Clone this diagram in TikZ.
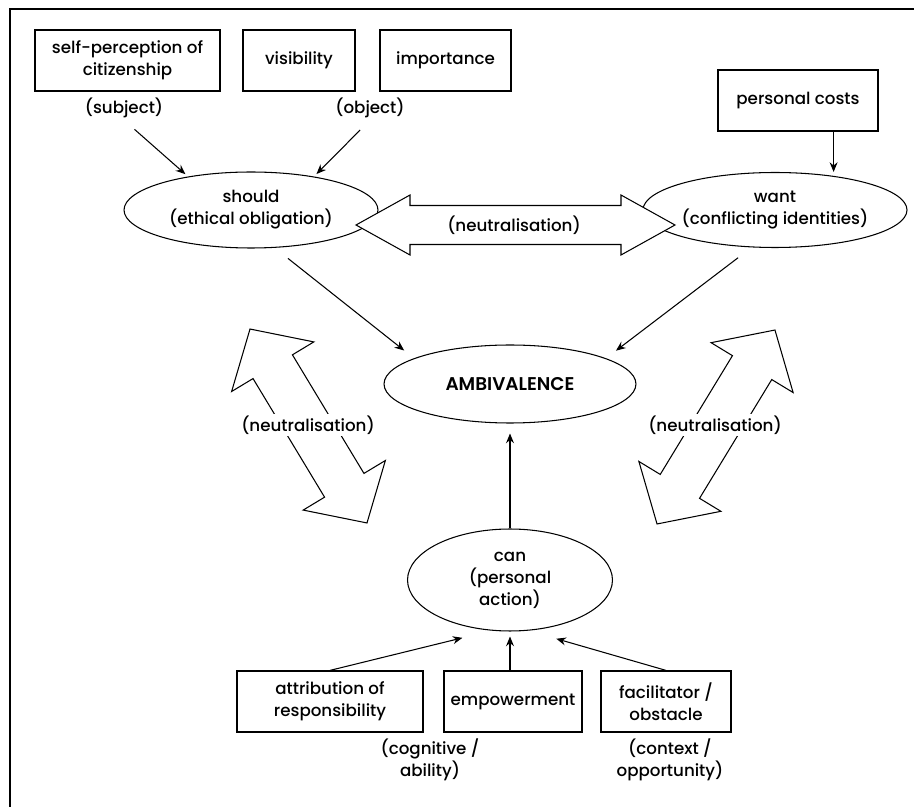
\documentclass[tikz,border=0pt]{standalone}
\usepackage{fontspec}
\setmainfont{Poppins}[UprightFont={* Medium}, BoldFont={* SemiBold}]
\usetikzlibrary{arrows.meta,shapes.geometric}

\tikzset{
  box/.style={draw, line width=0.7pt, align=center, inner sep=2pt},
  oval/.style={draw, ellipse, line width=0.6pt, align=center, inner sep=0pt},
  note/.style={align=center, fill=white, inner sep=1pt},
  arr/.style={-{Stealth[length=5.5pt,width=4.5pt]}, line width=0.6pt},
  block/.style={draw, fill=white, line width=0.6pt, line join=miter},
}

% center, angle, half length, head length, head half width, shaft half width
\newcommand{\blockarrow}[6]{%
  \begin{scope}[shift={#1}, rotate=#2]
    \draw[block] (-#3,0) -- (-#3+#4,#5) -- (-#3+#4,#6) -- (#3-#4,#6) -- (#3-#4,#5)
      -- (#3,0) -- (#3-#4,-#5) -- (#3-#4,-#6) -- (-#3+#4,-#6) -- (-#3+#4,-#5) -- cycle;
  \end{scope}}

\begin{document}
\begin{tikzpicture}[x=0.02cm, y=-0.02cm, font=\fontsize{9.5}{12.5}\selectfont]
            \useasboundingbox (0,0) rectangle (914,807);
            % cadre
            \draw[line width=0.8pt] (914,9) -- (10,9) -- (10,807);

            % boites du haut
            \node[box, minimum width=3.7cm, minimum height=1.22cm] (selfp) at (127.5,60.5) {self-perception of\\citizenship};
            \node[box, minimum width=2.24cm, minimum height=1.22cm] (visib) at (299,60.5) {visibility};
            \node[box, minimum width=2.62cm, minimum height=1.22cm] (import) at (445.5,60.5) {importance};
            \node[box, minimum width=3.2cm, minimum height=1.22cm] (pcost) at (798,100.5) {personal costs};
            \node[note] (subj) at (124,108) {(subject)};
            \node[note] (obj) at (370,108) {(object)};

            % ellipses
            \node[oval, minimum width=5.08cm, minimum height=1.52cm] (should) at (251,210) {should\\(ethical obligation)};
            \node[oval, minimum width=5.08cm, minimum height=1.5cm] (want) at (775,210) {want\\(conflicting identities)};
            \node[oval, minimum width=5.04cm, minimum height=1.56cm] (ambiv) at (510,384) {\fontsize{10.5}{12.5}\selectfont\bfseries AMBIVALENCE};
            \node[oval, minimum width=4.1cm, minimum height=2.04cm] (can) at (510,580) {can\\(personal\\action)};

            % boites du bas
            \node[box, minimum width=3.72cm, minimum height=1.22cm] (attrib) at (330,701.5) {attribution of\\responsibility};
            \node[box, minimum width=2.76cm, minimum height=1.22cm] (empow) at (513,701.5) {empowerment};
            \node[box, minimum width=2.6cm, minimum height=1.22cm] (facil) at (666,701.5) {facilitator /\\obstacle};
            \node[note] (cogn) at (430,760) {(cognitive /\\ability)};
            \node[note] (ctx) at (670,760) {(context /\\opportunity)};

            % fleches simples
            \coordinate (pc) at ([xshift=-0.9cm]pcost.south east);
            \draw[arr, shorten <=8pt, shorten >=2pt] (subj.south) -- (should.152);
            \draw[arr, shorten <=8pt, shorten >=2pt] (obj.south) -- (should.28);
            \draw[arr] (pc) -- (pc |- want.north);
            \draw[arr, shorten <=0.34cm, shorten >=0.25cm] (should.-58) -- (ambiv.165);
            \draw[arr, shorten <=0.34cm, shorten >=0.25cm] (want.238) -- (ambiv.15);
            \draw[arr, shorten >=0.2cm] (can) -- (ambiv);
            \draw[arr, shorten >=0.6cm] (attrib.north) -- (can.250);
            \draw[arr, shorten >=0.1cm] (empow.north -| can) -- (can.south);
            \draw[arr, shorten >=0.58cm] (facil.north) -- (can.290);

            % doubles fleches (neutralisation)
            \blockarrow{(515.5,225)}{0}{159.5}{54}{30}{19.5}
            \blockarrow{(308.5,426)}{-58.9}{113.25}{44}{48}{23}
            \blockarrow{(716,427)}{58.7}{113.5}{44}{48}{23}
            \node[note] (neutm) at (514,225) {(neutralisation)};
            \node[note] (neutl) at (308,425) {(neutralisation)};
            \node[note] (neutr) at (715,425) {(neutralisation)};
\end{tikzpicture}
\end{document}
